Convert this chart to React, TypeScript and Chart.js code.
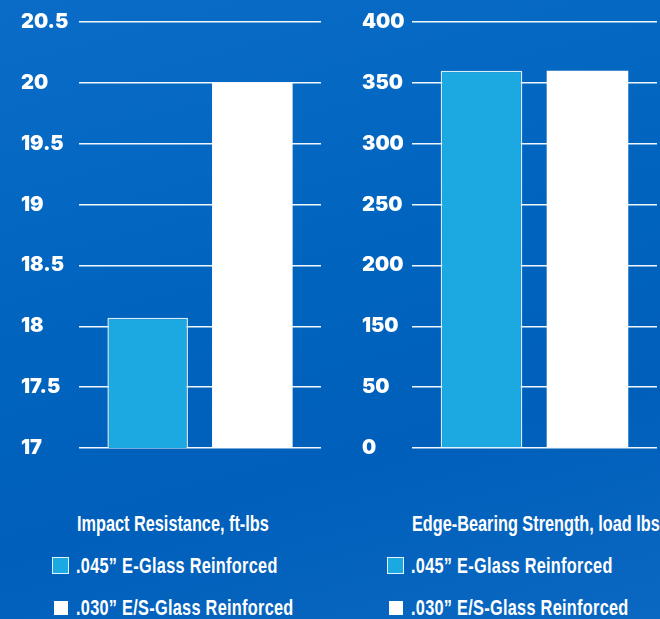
import React, { useEffect, useRef } from "react";
import { Chart, registerables } from "chart.js";
Chart.register(...registerables);

// ---- data ----
const impactTitle = "Impact Resistance, ft-lbs";
const impactEGlass = [18.07];
const impactESGlass = [20];
const impactMin = 17;
const impactMax = 20.5;
const impactStep = 0.5;

const edgeTitle = "Edge-Bearing Strength, load lbs";
const edgeEGlass = [360];
const edgeESGlass = [360];
const edgeTickLabels = ["0", "50", "150", "200", "250", "300", "350", "400"];

const seriesNames = [".045\u201D E-Glass Reinforced", ".030\u201D E/S-Glass Reinforced"];
const seriesColors = ["#1ca8e0", "#ffffff"];

// map an edge-bearing value onto the (non-uniform) tick positions
function edgePos(v: number): number {
  const t = edgeTickLabels.map(Number);
  for (let i = 0; i < t.length - 1; i++) {
    if (v <= t[i + 1]) return i + (v - t[i]) / (t[i + 1] - t[i]);
  }
  const n = t.length - 1;
  return n + (v - t[n]) / (t[n] - t[n - 1]);
}

const tickFont = { family: "Inter, 'Open Sans', sans-serif", weight: 900 as any, size: 20 };

function makeConfig(opts: {
  d1: number[];
  d2: number[];
  min: number;
  max: number;
  step: number;
  label: (v: number) => string;
  padLeft: number;
  axisWidth: number;
  padRight: number;
}) {
  return {
    type: "bar" as const,
    data: {
      labels: [""],
      datasets: [
        {
          label: seriesNames[0],
          data: opts.d1,
          backgroundColor: seriesColors[0],
          borderColor: "#d6ecf8",
          borderWidth: 1.5,
          categoryPercentage: 0.865,
          barPercentage: 0.77,
        },
        {
          label: seriesNames[1],
          data: opts.d2,
          backgroundColor: seriesColors[1],
          borderWidth: 0,
          categoryPercentage: 0.865,
          barPercentage: 0.77,
        },
      ],
    },
    options: {
      responsive: false,
      animation: false as const,
      devicePixelRatio: 1,
      layout: { padding: { left: opts.padLeft, right: opts.padRight, top: 22, bottom: 22 } },
      plugins: { legend: { display: false }, tooltip: { enabled: false } },
      scales: {
        x: { display: false },
        y: {
          min: opts.min,
          max: opts.max,
          afterFit: (s: any) => {
            s.width = opts.axisWidth;
          },
          ticks: {
            stepSize: opts.step,
            color: "#ffffff",
            font: tickFont,
            crossAlign: "far" as const,
            padding: 0,
            callback: (v: any) => opts.label(Number(v)),
          },
          grid: { color: "rgba(255,255,255,0.95)", lineWidth: 1.5, drawTicks: false },
          border: { display: false },
        },
      },
    },
  };
}

function BarChart(props: { config: any; left: number }) {
  const ref = useRef<HTMLCanvasElement>(null);
  useEffect(() => {
    const c = new Chart(ref.current as HTMLCanvasElement, props.config);
    return () => c.destroy();
  }, []);
  return (
    <canvas
      ref={ref}
      width={330}
      height={470}
      style={{ position: "absolute", left: props.left, top: 0, width: 330, height: 470 }}
    />
  );
}

const legendFont: React.CSSProperties = {
  position: "absolute",
  color: "#ffffff",
  fontFamily: "'Liberation Sans', Arial, sans-serif",
  fontWeight: 700,
  fontSize: 22,
  lineHeight: "22px",
  whiteSpace: "nowrap",
  transform: "scaleX(0.74)",
  transformOrigin: "0 0",
};
const itemFont: React.CSSProperties = { ...legendFont, letterSpacing: "0.4px" };

function Legend(props: { left: number; title: string }) {
  const L = props.left;
  return (
    <>
      <div style={{ ...legendFont, left: L + 77, top: 513 }}>{props.title}</div>
      <div
        style={{
          position: "absolute",
          left: L + 52,
          top: 557,
          width: 15,
          height: 15,
          background: seriesColors[0],
          border: "1.5px solid #e4f2fa",
        }}
      />
      <div style={{ ...itemFont, left: L + 76, top: 555 }}>{seriesNames[0]}</div>
      <div
        style={{
          position: "absolute",
          left: L + 54,
          top: 601,
          width: 14,
          height: 14,
          background: seriesColors[1],
        }}
      />
      <div style={{ ...itemFont, left: L + 76, top: 597 }}>{seriesNames[1]}</div>
    </>
  );
}

export default function App() {
  useEffect(() => {
    document.body.style.margin = "0";
  }, []);
  const impactConfig = makeConfig({
    d1: impactEGlass,
    d2: impactESGlass,
    min: impactMin,
    max: impactMax,
    step: impactStep,
    label: (v) => String(v),
    padLeft: 21,
    axisWidth: 58,
    padRight: 9,
  });
  const edgeConfig = makeConfig({
    d1: edgeEGlass.map(edgePos),
    d2: edgeESGlass.map(edgePos),
    min: 0,
    max: edgeTickLabels.length - 1,
    step: 1,
    label: (v) => edgeTickLabels[Math.round(v)] ?? "",
    padLeft: 32,
    axisWidth: 50,
    padRight: 3,
  });
  return (
    <div
      style={{
        position: "absolute",
        left: 0,
        top: 0,
        width: 660,
        height: 619,
        overflow: "hidden",
        background: "linear-gradient(165deg, #0a6cc6 0%, #0064be 45%, #005fba 70%, #0a68c2 100%)",
      }}
    >
      <BarChart config={impactConfig} left={0} />
      <BarChart config={edgeConfig} left={330} />
      <Legend left={0} title={impactTitle} />
      <Legend left={335} title={edgeTitle} />
    </div>
  );
}
